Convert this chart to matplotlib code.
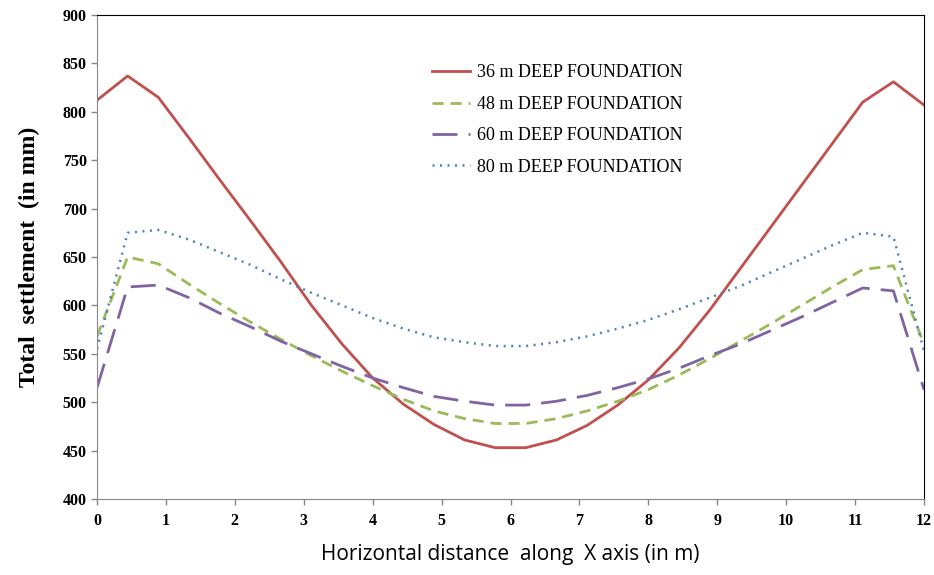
import matplotlib
matplotlib.use('Agg')
import matplotlib.pyplot as plt
import numpy as np

# horizontal distance (m), 28 stations across the 12 m width
x_m = [round(12 / 27 * i, 3) for i in range(28)]

settle_36 = [812, 837, 815, 773, 730, 688, 645, 600, 560, 525, 498, 477, 461, 453,
             453, 461, 476, 497, 523, 556, 595, 638, 681, 724, 767, 810, 831, 807]
settle_48 = [568, 650, 643, 622, 602, 583, 565, 548, 532, 517, 503, 491, 483, 478,
             478, 483, 491, 501, 513, 528, 545, 563, 581, 600, 619, 637, 641, 560]
settle_60 = [515, 619, 621, 608, 592, 578, 563, 550, 537, 525, 515, 506, 501, 497,
             497, 501, 507, 515, 524, 535, 548, 560, 574, 588, 603, 618, 615, 513]
settle_80 = [555, 675, 678, 668, 655, 642, 627, 613, 600, 587, 576, 567, 562, 558,
             558, 562, 568, 576, 585, 596, 608, 620, 634, 648, 662, 675, 671, 553]

labels = ['36 m DEEP FOUNDATION', '48 m DEEP FOUNDATION',
          '60 m DEEP FOUNDATION', '80 m DEEP FOUNDATION']

fig = plt.figure(figsize=(9.34, 5.75), dpi=100)
ax = fig.add_axes([0.1039, 0.1322, 0.8854, 0.8417])

ax.plot(x_m, settle_36, color='#c0504d', lw=2.0, label=labels[0])
ax.plot(x_m, settle_48, color='#9bbb59', lw=2.0, dashes=(4, 2.5), label=labels[1])
ax.plot(x_m, settle_60, color='#8064a2', lw=2.0, dashes=(9, 4), label=labels[2])
ax.plot(x_m, settle_80, color='#4f81bd', lw=1.8, dashes=(0.8, 2.2), label=labels[3])

ax.set_xlim(0, 12)
ax.set_ylim(400, 900)
ax.set_xticks(range(0, 13))
ax.set_yticks(range(400, 901, 50))

for side in ['left', 'bottom']:
    ax.spines[side].set_color('#888888')
for side in ['top', 'right']:
    ax.spines[side].set_color('black')
ax.tick_params(direction='out', length=4, color='#888888', width=1)
ax.tick_params(axis='x', pad=6)
for lab in ax.get_xticklabels() + ax.get_yticklabels():
    lab.set_fontfamily('Liberation Serif')
    lab.set_fontweight('bold')
    lab.set_fontsize(11.5)

ax.set_ylabel('Total  settlement  (in mm)', fontfamily='Liberation Serif',
              fontweight='bold', fontsize=17, labelpad=16)
ax.set_xlabel('Horizontal distance  along  X axis (in m)', fontfamily='Open Sans',
              fontsize=15, labelpad=11)

ax.legend(loc='upper left', bbox_to_anchor=(0.462, 0.888), bbox_transform=fig.transFigure,
          frameon=False, borderpad=0, borderaxespad=0, handlelength=2.15,
          handletextpad=0.35, labelspacing=0.8,
          prop={'family': 'Liberation Serif', 'size': 13})

fig.savefig('out.png', dpi=100)
